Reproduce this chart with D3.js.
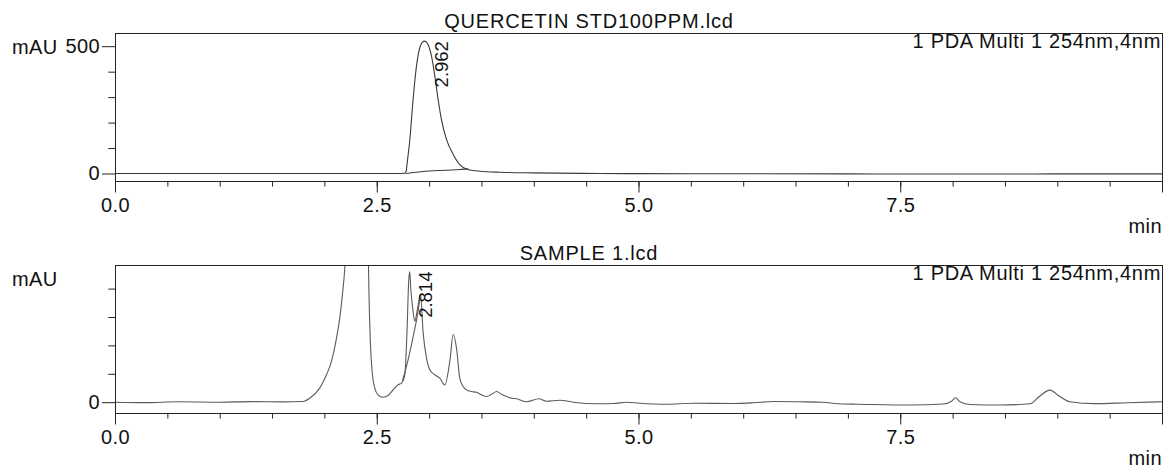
<!DOCTYPE html>
<html>
<head>
<meta charset="utf-8">
<script src="https://cdn.jsdelivr.net/npm/d3@7"></script>
<style>
body{margin:0;background:#fff}
svg{display:block;font-family:"Liberation Sans",Arial,sans-serif}
</style>
</head>
<body>
<div id="chart"></div>
<script>
// --- data (time in min, signal in mAU) ---
const stdTime   = [0,0.5,1,1.5,2,2.5,2.7,2.765,2.78,2.79,2.816,2.847,2.879,2.911,2.935,2.959,2.99,3.023,3.055,3.086,3.118,3.166,3.23,3.293,3.357,3.485,3.676,3.994,4.44,4.63,5,6,7,7.8,8.5,9,10];
const stdSignal = [0,0,0,0,0,0,0,1,8,40,133,290,421,494,515,520,507,461,382,291,212,134,75,35,18,9,5,2.6,0.5,0,-0.5,-1,-1.5,-2,-2,-1.5,-1.5];

const stdBaseTime   = [2.777,2.9,3.0,3.17,3.3,3.373];
const stdBaseSignal = [0,6,10,13,16,18];

const smpTime   = [0,0.3,0.6,1,1.3,1.6,1.795,1.86,1.955,2.02,2.067,2.115,2.146,2.172,2.197,2.23,2.28,2.32,2.37,2.4,2.421,2.426,2.44,2.459,2.481,2.512,2.56,2.608,2.656,2.704,2.736,2.768,2.79,2.805,2.815,2.825,2.847,2.863,2.89,2.918,2.943,2.975,3.007,3.054,3.102,3.15,3.2,3.23,3.262,3.293,3.325,3.357,3.405,3.453,3.5,3.549,3.597,3.645,3.692,3.74,3.788,3.835,3.93,4.05,4.12,4.25,4.377,4.6,4.76,4.887,5.01,5.27,5.52,5.91,6.1,6.29,6.54,6.77,6.9,7.1,7.6,7.91,7.99,8.03,8.07,8.17,8.46,8.74,8.83,8.93,9.02,9.12,9.35,9.67,10];
const smpSignal = [0,-0.3,0.3,0,0.4,0.2,0.5,2.8,9.9,19.3,28.7,45,59,75.6,97,160,260,300,240,150,97,75.6,40.4,19.3,9.9,5.2,3.5,4.7,8.7,12.3,13.4,19.3,52,85,92,80,64,57,66,76,49,31,22.8,19.3,16.9,12.2,30,47.9,38,16.9,11,8.7,7.5,7,5.2,4,5.6,7.5,5.6,4,2.8,2.4,0.3,2.4,0.7,1.4,0,-1.1,-0.9,0,-0.7,-1.4,-0.7,-0.9,-0.4,0.5,0.3,0,-1.1,-1.4,-2,-1.3,0.7,3.1,0.3,-1.6,-2,-1.1,4.2,8.5,4.2,0.3,-1,-0.4,0.3];

const smpShoulderTime   = [2.745,2.8,2.85,2.89,2.918];
const smpShoulderSignal = [15,30,47,62,76];

const stdPeakTime = [2.962], stdPeakHeight = [520], stdPeakLabel = ["2.962"];
const smpPeakTime = [2.814], smpPeakHeight = [92],  smpPeakLabel = ["2.814"];

const xMajorTicks  = [0,2.5,5,7.5,10];
const xMajorLabels = ["0.0","2.5","5.0","7.5",""];
const stdYMinor = [100,200,300,400], stdYMajor = [0,500], stdYLabels = ["0","500"];
const smpYMinor = [20,40,60,80],     smpYMajor = [0],     smpYLabels = ["0"];

const width = 1165, height = 470;
const svg = d3.select("#chart").append("svg").attr("width", width).attr("height", height);
const x = d3.scaleLinear().domain([0,10]).range([115,1162]);

function drawPanel(p){
  const y = d3.scaleLinear().domain(p.yDomain).range(p.yRange);
  const g = svg.append("g");

  g.append("clipPath").attr("id", p.id).append("rect")
    .attr("x", 115.5).attr("y", p.top + 0.5).attr("width", 1047).attr("height", p.bottom - p.top);

  const line = d3.line().x(d=>x(d[0])).y(d=>y(d[1])).curve(d3.curveMonotoneX);
  const plot = g.append("g").attr("clip-path", `url(#${p.id})`);
  p.series.forEach(s=>{
    plot.append("path").datum(d3.zip(s[0], s[1]))
      .attr("d", line).attr("fill","none").attr("stroke", p.color).attr("stroke-width",1.1);
  });

  g.append("rect").attr("x",115.5).attr("y",p.top+0.5).attr("width",1047).attr("height",p.bottom-p.top)
    .attr("fill","none").attr("stroke","#222").attr("stroke-width",1);

  // x axis: minor + major
  const ax = g.append("g").attr("transform",`translate(0,${p.bottom})`).style("color","#222");
  ax.append("g").call(d3.axisBottom(x).tickValues(d3.range(0,10.01,0.5)).tickSize(5.5).tickFormat(""))
    .call(a=>a.select(".domain").remove());
  ax.append("g").call(d3.axisBottom(x).tickValues(xMajorTicks).tickSize(11.5).tickPadding(5.3)
      .tickFormat((d,i)=>xMajorLabels[i]))
    .call(a=>a.select(".domain").remove());

  // y axis: minor + major
  const ay = g.append("g").attr("transform","translate(115,0)").style("color","#222");
  ay.append("g").call(d3.axisLeft(y).tickValues(p.yMinor).tickSize(6.7).tickFormat(""))
    .call(a=>a.select(".domain").remove());
  ay.append("g").call(d3.axisLeft(y).tickValues(p.yMajor).tickSize(13).tickPadding(2)
      .tickFormat((d,i)=>p.yLabels[i]))
    .call(a=>a.select(".domain").remove());

  svg.selectAll(".tick text").attr("font-size",20).attr("font-family",null).attr("fill","#111")
    .style("letter-spacing","0.4px");

  g.append("text").attr("x",12).attr("y",p.top+20.5).attr("font-size",20).attr("fill","#111")
    .style("letter-spacing","0.4px").text("mAU");
  g.append("text").attr("x",589).attr("y",p.top-5).attr("text-anchor","middle").attr("font-size",20)
    .attr("fill","#111").style("letter-spacing","0.8px").text(p.title);
  g.append("text").attr("x",1161).attr("y",p.top+14.5).attr("text-anchor","end").attr("font-size",20)
    .attr("fill","#111").style("letter-spacing","0.7px").text("1 PDA Multi 1 254nm,4nm");
  g.append("text").attr("x",1162).attr("y",p.bottom+52).attr("text-anchor","end").attr("font-size",20)
    .attr("fill","#111").style("letter-spacing","0.4px").text("min");

  p.peaks[0].forEach((t,i)=>{
    g.append("text")
      .attr("transform",`translate(${x(t)+22.5},${y(p.peaks[1][i])}) rotate(-90)`)
      .attr("text-anchor","end").attr("font-size",18.5).attr("fill","#111")
      .text(p.peaks[2][i]);
  });
}

drawPanel({
  id:"clipStd", top:33, bottom:181, yDomain:[0,500], yRange:[173.5,46.2], color:"#3a3a3a",
  series:[[stdTime,stdSignal],[stdBaseTime,stdBaseSignal]],
  yMinor:stdYMinor, yMajor:stdYMajor, yLabels:stdYLabels,
  title:"QUERCETIN STD100PPM.lcd", peaks:[stdPeakTime,stdPeakHeight,stdPeakLabel]
});
drawPanel({
  id:"clipSmp", top:265, bottom:413, yDomain:[0,80], yRange:[402.2,288.6], color:"#5a5a5a",
  series:[[smpTime,smpSignal],[smpShoulderTime,smpShoulderSignal]],
  yMinor:smpYMinor, yMajor:smpYMajor, yLabels:smpYLabels,
  title:"SAMPLE 1.lcd", peaks:[smpPeakTime,smpPeakHeight,smpPeakLabel]
});
</script>
</body>
</html>
